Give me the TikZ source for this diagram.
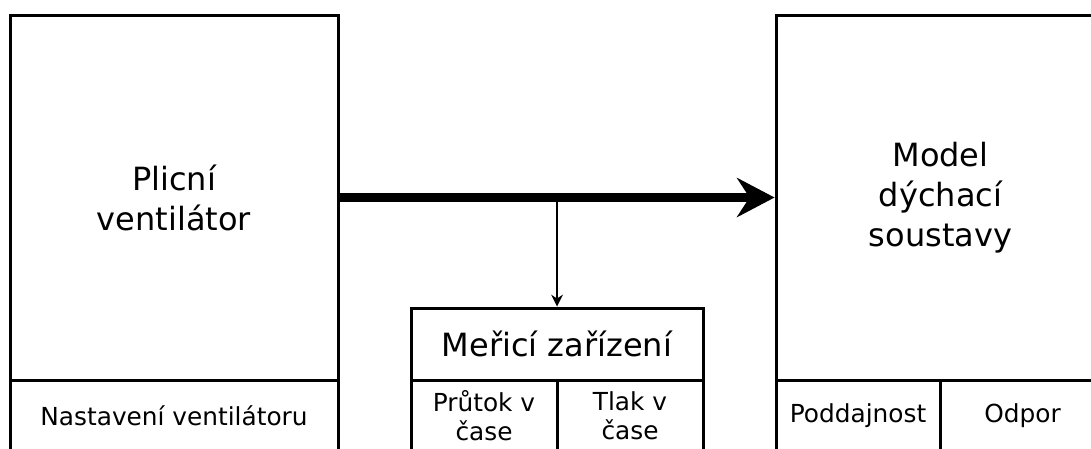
\documentclass[tikz,border=0pt]{standalone}
\usepackage{fontspec}
\setmainfont{DejaVu Sans}
\usetikzlibrary{arrows.meta}

\tikzset{
  cell/.style={draw, line width=3pt, align=center, inner sep=0pt},
  bigtext/.style={font=\fontsize{32}{40}\selectfont},
  smalltext/.style={font=\fontsize{24.8}{29}\selectfont},
  flow/.style={line width=9pt, -{Stealth[length=38pt,width=40pt,inset=13pt,line width=0pt]}},
  probe/.style={line width=1.5pt, -{Stealth[length=12pt,width=12pt,inset=4pt,line width=0pt]}}
}

\begin{document}
\begin{tikzpicture}[x=1pt,y=-1pt]

  \useasboundingbox (0,0) rectangle (1091,448);
  \clip (0,0) rectangle (1091,448);

  % ventilator
  \node[cell, bigtext, minimum width=328pt, minimum height=365pt] (vent) at (174,197.5) {Plicní\\ventilátor};
  \node[cell, smalltext, minimum width=328pt, minimum height=72pt] (ventset) at (174,416) {Nastavení ventilátoru};

  % lung model
  \node[cell, bigtext, minimum width=329pt, minimum height=365pt] (model) at (940.5,197.5) {Model\\dýchací\\soustavy};
  \node[cell, smalltext, minimum width=164pt, minimum height=72pt] (compl) at (858,416) {Poddajnost};
  \node[cell, smalltext, minimum width=165pt, minimum height=72pt] (resist) at (1022.5,416) {Odpor};

  % measuring device
  \node[cell, bigtext, minimum width=292pt, minimum height=72pt] (meas) at (557,344) {Meřicí zařízení};
  \node[cell, smalltext, minimum width=146pt, minimum height=72pt] (flowt) at (484,416) {Průtok v\\čase};
  \node[cell, smalltext, minimum width=146pt, minimum height=72pt] (prest) at (630,416) {Tlak v\\čase};

  \coordinate (tap) at (557,197.5);

  \draw[flow] (vent) -- (model);
  \draw[probe] (tap) -- (meas);

\end{tikzpicture}
\end{document}
